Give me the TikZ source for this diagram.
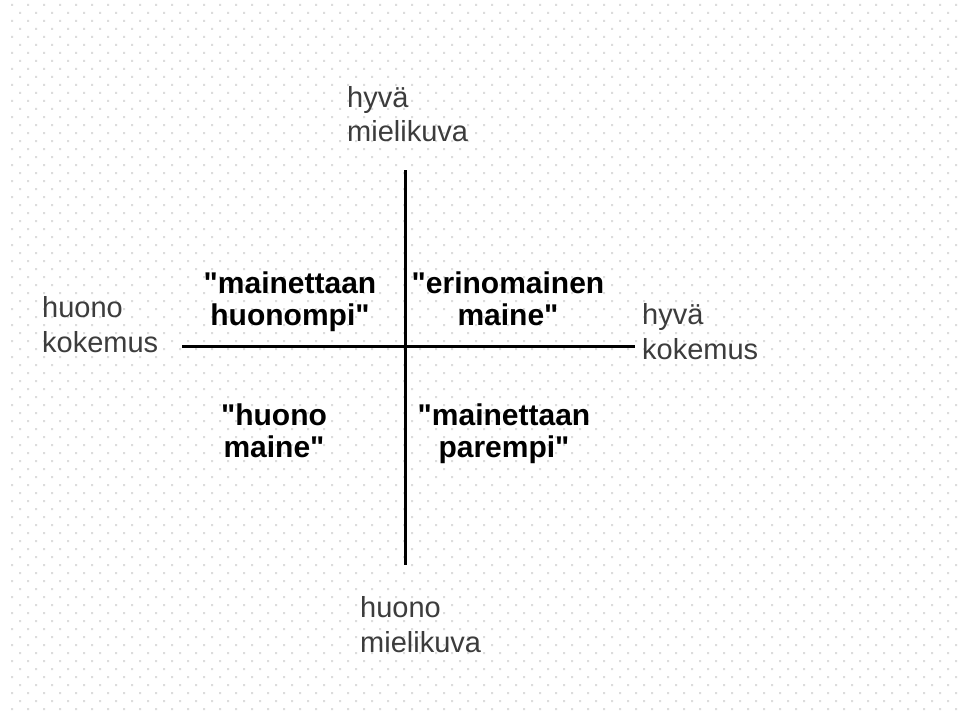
\documentclass[tikz,border=0pt]{standalone}
\usepackage{fontspec}
\setmainfont{Liberation Sans}[Ligatures=TeXOff]
\definecolor{dotgrey}{HTML}{DCDCDC}
\definecolor{labelgrey}{HTML}{3C3C3C}
\begin{document}
\begin{tikzpicture}[x=1pt,y=-1pt,
  axislabel/.style={inner sep=0pt, anchor=base west, align=left,
    text=labelgrey, font=\fontsize{29}{35}\selectfont},
  quadlabel/.style={inner sep=0pt, anchor=base, align=center,
    text=black, font=\bfseries\fontsize{30}{32.5}\selectfont},
  axis/.style={line width=3pt, black}]
\useasboundingbox[fill=white] (0,0) rectangle (962,717);
% staggered dot grid of the background
\fill[dotgrey]
  \foreach \r in {0,...,88} {
    \foreach \c in {0,...,60} {
      ({12+16*\c+8*mod(\r,2)-1}, {5+8*\r-1}) rectangle ++(2,2)
    }
  };
% axis end points
\coordinate (top) at (405,170);
\coordinate (bottom) at (405,565);
\coordinate (left) at (182,346);
\coordinate (right) at (635,346);
\draw[axis] (top) -- (bottom);
\draw[axis] (left) -- (right);
% axis labels (positioned by the baseline of their last line)
\node[axislabel] (goodimage) at (347,142) {hyvä\\mielikuva};
\node[axislabel] (badimage) at (360,652) {huono\\mielikuva};
\node[axislabel] (badexp) at (42,352) {huono\\kokemus};
\node[axislabel] (goodexp) at (642,359) {hyvä\\kokemus};
% quadrant labels
\node[quadlabel] (worse) at (290,325.5) {"mainettaan\\huonompi"};
\node[quadlabel] (excellent) at (508,325.5) {"erinomainen\\maine"};
\node[quadlabel] (bad) at (274,457.5) {"huono\\maine"};
\node[quadlabel] (better) at (504,457.5) {"mainettaan\\parempi"};
\end{tikzpicture}
\end{document}
